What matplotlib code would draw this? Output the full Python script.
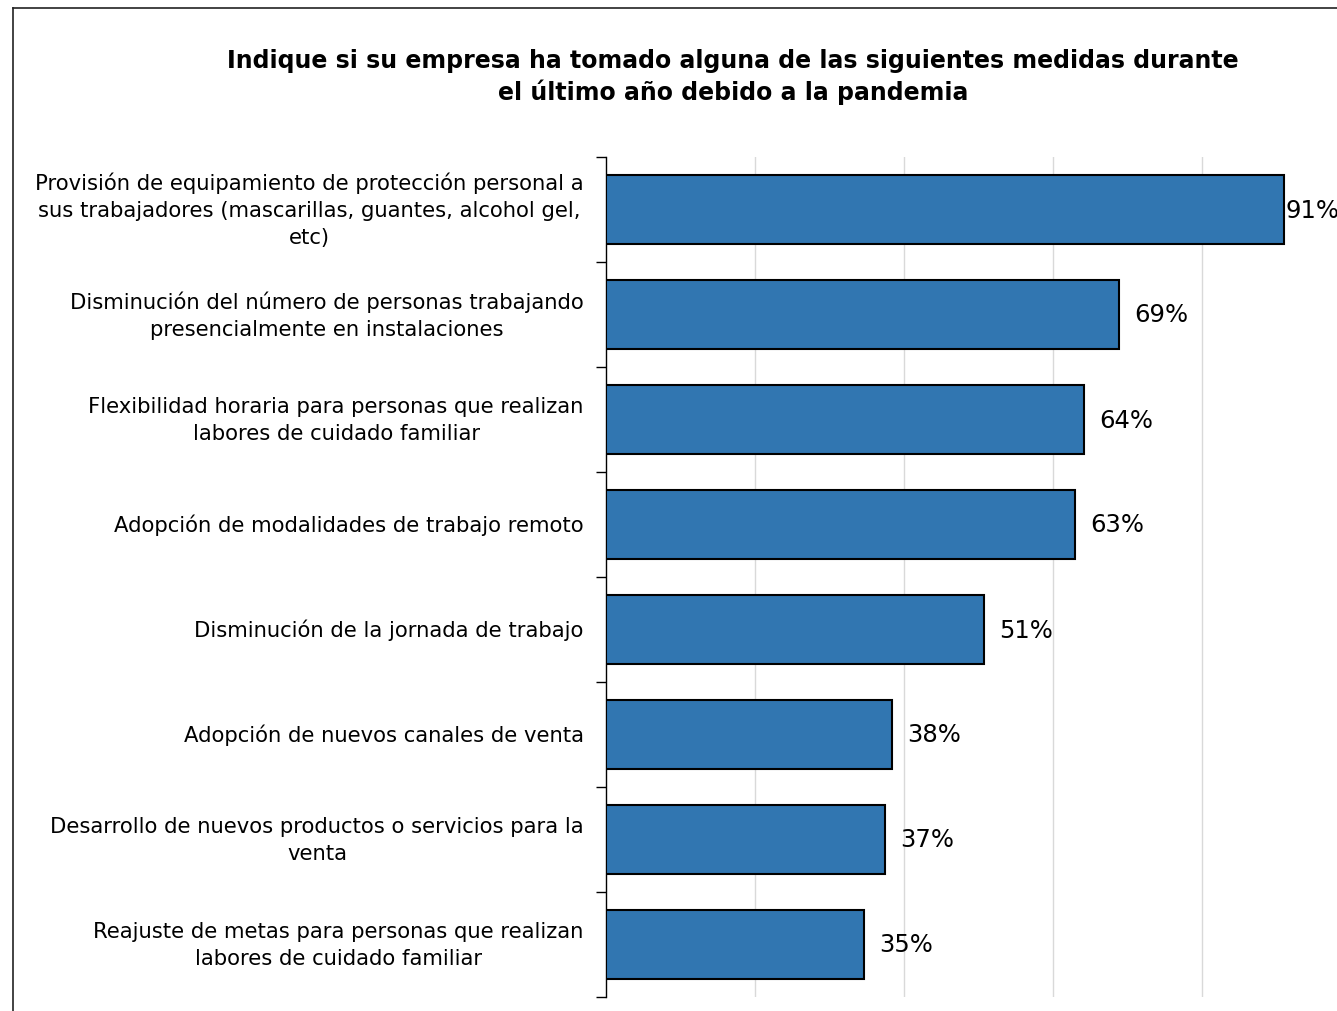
import matplotlib
matplotlib.use("Agg")
import matplotlib.pyplot as plt
from matplotlib.lines import Line2D

categories = [
    "Provisión de equipamiento de protección personal a\nsus trabajadores (mascarillas, guantes, alcohol gel,\netc)",
    "Disminución del número de personas trabajando\npresencialmente en instalaciones",
    "Flexibilidad horaria para personas que realizan\nlabores de cuidado familiar",
    "Adopción de modalidades de trabajo remoto",
    "Disminución de la jornada de trabajo",
    "Adopción de nuevos canales de venta",
    "Desarrollo de nuevos productos o servicios para la\nventa",
    "Reajuste de metas para personas que realizan\nlabores de cuidado familiar",
]
values = [91.0, 68.9, 64.2, 63.0, 50.7, 38.4, 37.4, 34.6]
title = "Indique si su empresa ha tomado alguna de las siguientes medidas durante\nel último año debido a la pandemia"

W, H = 1337, 1012
fig = plt.figure(figsize=(W / 100, H / 100), dpi=100)
plt.rcParams['font.family'] = ['DejaVu Sans']

ax_left = 606 / W
ax_bottom = 1 - 998 / H
ax_top = 1 - 158 / H
ax_w = (1351 - 606) / W
ax = fig.add_axes([ax_left, ax_bottom, ax_w, ax_top - ax_bottom])

y = list(range(len(categories)))
ax.barh(y, values, height=0.66, color="#3176B1", edgecolor="black", linewidth=1.5, zorder=3)
ax.set_xlim(0, 100)
ax.set_ylim(len(categories) - 0.5, -0.5)

ax.set_xticks([20, 40, 60, 80, 100])
ax.xaxis.grid(True, color="#D9D9D9", linewidth=1, zorder=0)
ax.tick_params(axis='x', length=0, labelbottom=False)

# category labels at centers, ticks at boundaries
ax.set_yticks(y)
ax.set_yticklabels(categories, fontsize=15.2, linespacing=1.45, ha='right',
                   va='center', multialignment='center')
ax.tick_params(axis='y', which='major', length=0, pad=16)
ax.set_yticks([i - 0.5 for i in range(len(categories) + 1)], minor=True)
ax.tick_params(axis='y', which='minor', length=7, width=1, direction='out', color='black')

for s in ['top', 'right', 'bottom']:
    ax.spines[s].set_visible(False)
ax.spines['left'].set_color('black')
ax.spines['left'].set_linewidth(1)

offsets = [1, 11, 11, 11, 11, 11, 11, 11]
for i, v in enumerate(values):
    ax.annotate(f"{round(v):d}%", (v, i), xytext=(offsets[i], 0), textcoords='offset points',
                va='center', ha='left', fontsize=17.5)

fig.text(733 / W, 1 - 77 / H, title, ha='center', va='center', fontsize=17,
         fontweight='bold', linespacing=1.33)

# outer frame
fig.add_artist(Line2D([13 / W, 13 / W], [1 - 9 / H, 0], color='#222222', linewidth=1.2, transform=fig.transFigure))
fig.add_artist(Line2D([13 / W, 1], [1 - 9 / H, 1 - 9 / H], color='#222222', linewidth=1.2, transform=fig.transFigure))

fig.savefig("out.png", dpi=100)
